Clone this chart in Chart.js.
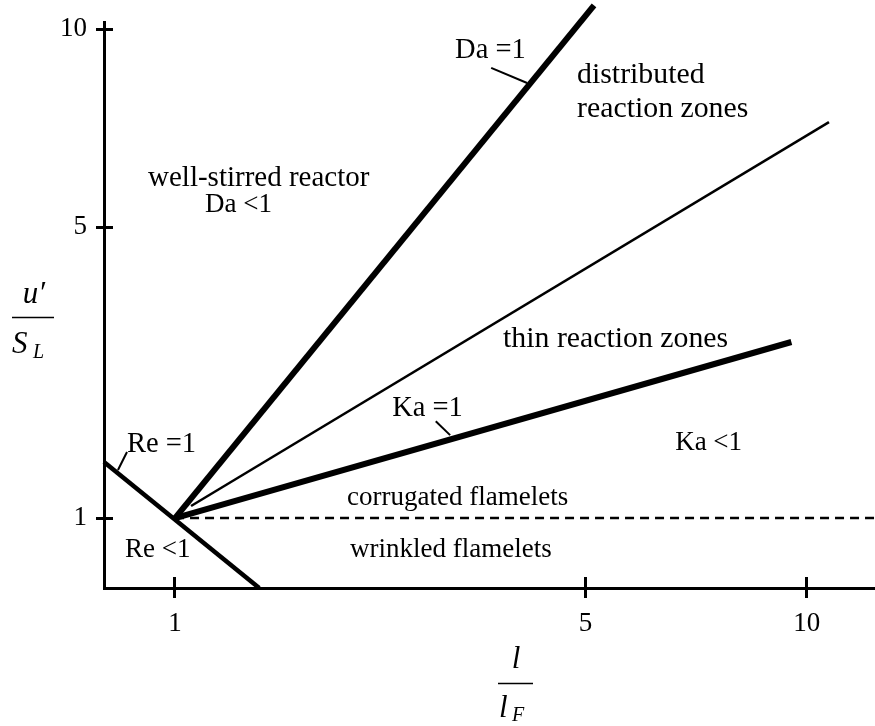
<!DOCTYPE html>
<html>
<head>
<meta charset="utf-8">
<script src="https://cdn.jsdelivr.net/npm/chart.js@4.4.1/dist/chart.umd.min.js"></script>
<style>
  html, body { margin: 0; padding: 0; background: #fff; }
  #wrap { width: 875px; height: 726px; position: relative; }
</style>
</head>
<body>
<div id="wrap"><canvas id="regime"></canvas></div>
<script>
// Regime diagram of premixed turbulent combustion (u'/S_L against l/l_F)

const xTicks = [1, 5, 10];
const yTicks = [1, 5, 10];

// Regime boundaries, end points in (l/l_F, u'/S_L)
const da1X = [1, 5.19];
const da1Y = [1, 10.6];
const thinX = [1.156, 10.5];
const thinY = [1.165, 7.65];
const ka1X = [1, 9.65];
const ka1Y = [1, 3.42];
const re1X = [0.308, 1.82];
const re1Y = [1.77, 0.038];
const flameletX = [1, 11.54];
const flameletY = [1, 1];

// Short leader strokes joining a boundary to its name
const reLeadX = [0.444, 0.532];
const reLeadY = [1.66, 1.907];
const daLeadX = [4.08, 4.43];
const daLeadY = [9.02, 8.64];
const kaLeadX = [3.54, 3.68];
const kaLeadY = [2.33, 2.14];

// Region names, anchored at the left end of their baseline
const regionText = ['Da =1', 'distributed', 'reaction zones', 'well-stirred reactor', 'Da <1',
  'thin reaction zones', 'Ka =1', 'Ka <1', 'corrugated flamelets', 'wrinkled flamelets',
  'Re =1', 'Re <1'];
const regionX = [3.728, 4.917, 4.917, 0.737, 1.292, 4.196, 3.115, 7.023, 2.676, 2.705, 0.532, 0.513];
const regionY = [9.268, 8.636, 7.778, 6.035, 5.379, 3.351, 2.402, 1.935, 1.179, 0.464, 1.907, 0.464];

const SERIF = "'Liberation Serif', 'Times New Roman', serif";

// Lettering sizes: the boundary names and the upper region names are set a little larger
const labelSize = {
  'Da =1': 28.5, 'Ka =1': 28.5, 'Re =1': 28.5,
  'distributed': 29.8, 'reaction zones': 29.8, 'thin reaction zones': 29.8,
  'well-stirred reactor': 29
};

// The diagram's axes are schematic: the stretch between labelled ticks is not uniform.
// Each axis is drawn piecewise-linear between its labelled values.
const axisBends = {
  x: { values: xTicks, lengths: [410.5, 221.2] },
  y: { values: yTicks, lengths: [291, 198] }
};

class BentScale extends Chart.LinearScale {
  static id = 'bent';
  static defaults = Chart.LinearScale.defaults;

  _bend() {
    const b = axisBends[this.axis];
    const cum = [0];
    b.lengths.forEach((l, i) => cum.push(cum[i] + l));
    return { v: b.values, l: b.lengths, c: cum };
  }
  _posOf(value) {
    const { v, l, c } = this._bend();
    let i = 0;
    while (i < v.length - 2 && value > v[i + 1]) i++;
    return c[i] + (value - v[i]) * l[i] / (v[i + 1] - v[i]);
  }
  _valueOf(pos) {
    const { v, l, c } = this._bend();
    let i = 0;
    while (i < v.length - 2 && pos > c[i + 1]) i++;
    return v[i] + (pos - c[i]) * (v[i + 1] - v[i]) / l[i];
  }
  getPixelForValue(value) {
    const p0 = this._posOf(this.min), p1 = this._posOf(this.max);
    return this.getPixelForDecimal((this._posOf(value) - p0) / (p1 - p0));
  }
  getValueForPixel(pixel) {
    const p0 = this._posOf(this.min), p1 = this._posOf(this.max);
    return this._valueOf(p0 + this.getDecimalForPixel(pixel) * (p1 - p0));
  }
}
Chart.register(BentScale);

const pts = (xs, ys) => xs.map((x, i) => ({ x, y: ys[i] }));

function boundary(label, xs, ys, width, dash) {
  return {
    label,
    data: pts(xs, ys),
    borderColor: '#000',
    borderWidth: width,
    borderDash: dash || [],
    borderCapStyle: 'butt',
    pointRadius: 0,
    pointHoverRadius: 0,
    tension: 0,
    fill: false,
    clip: false
  };
}

// Crossing tick marks, region names and the two fraction-style axis titles
const decorations = {
  id: 'decorations',
  afterDatasetsDraw(chart) {
    const { ctx, scales: { x, y } } = chart;
    ctx.save();
    ctx.strokeStyle = '#000';
    ctx.fillStyle = '#000';
    ctx.lineWidth = 3;
    ctx.lineCap = 'butt';
    x.ticks.forEach(t => {
      const px = Math.round(x.getPixelForValue(t.value)) - 0.5;
      ctx.beginPath();
      ctx.moveTo(px, y.bottom - 11);
      ctx.lineTo(px, y.bottom + 10);
      ctx.stroke();
    });
    y.ticks.forEach(t => {
      const py = Math.round(y.getPixelForValue(t.value)) + 0.5;
      ctx.beginPath();
      ctx.moveTo(x.left - 8, py);
      ctx.lineTo(x.left + 9, py);
      ctx.stroke();
    });

    ctx.textAlign = 'left';
    ctx.textBaseline = 'alphabetic';
    regionText.forEach((s, i) => {
      ctx.font = (labelSize[s] || 27) + 'px ' + SERIF;
      ctx.fillText(s, x.getPixelForValue(regionX[i]), y.getPixelForValue(regionY[i]));
    });

    // u' / S_L
    ctx.textAlign = 'center';
    ctx.font = 'italic 31px ' + SERIF;
    ctx.fillText('u\u2032', 34, 303);
    ctx.lineWidth = 1.5;
    ctx.beginPath();
    ctx.moveTo(12, 317.5);
    ctx.lineTo(54, 317.5);
    ctx.stroke();
    ctx.textAlign = 'left';
    ctx.font = 'italic 31px ' + SERIF;
    ctx.fillText('S', 12, 353);
    ctx.font = 'italic 20px ' + SERIF;
    ctx.fillText('L', 33, 358);

    // l / l_F
    ctx.textAlign = 'center';
    ctx.font = 'italic 31px ' + SERIF;
    ctx.fillText('l', 516, 668);
    ctx.lineWidth = 1.5;
    ctx.beginPath();
    ctx.moveTo(498, 683.5);
    ctx.lineTo(533, 683.5);
    ctx.stroke();
    ctx.textAlign = 'left';
    ctx.fillText('l', 499, 717);
    ctx.font = 'italic 20px ' + SERIF;
    ctx.fillText('F', 512, 721);
    ctx.restore();
  }
};

new Chart(document.getElementById('regime'), {
  type: 'line',
  data: {
    datasets: [
      boundary('Da = 1', da1X, da1Y, 6),
      boundary('Ka = 0.1', thinX, thinY, 2.5),
      boundary('Ka = 1', ka1X, ka1Y, 6),
      boundary('Re = 1', re1X, re1Y, 4.5),
      boundary('u\u2032 = S_L', flameletX, flameletY, 2.5, [9, 6]),
      boundary('Re leader', reLeadX, reLeadY, 2),
      boundary('Da leader', daLeadX, daLeadY, 2),
      boundary('Ka leader', kaLeadX, kaLeadY, 2)
    ]
  },
  options: {
    responsive: true,
    maintainAspectRatio: false,
    animation: false,
    events: [],
    layout: { padding: { top: 22, left: 0, right: 0, bottom: 0 } },
    plugins: { legend: { display: false }, tooltip: { enabled: false } },
    scales: {
      x: {
        type: 'bent',
        min: 0.308,
        max: 11.54,
        bounds: 'data',
        grid: { display: false, drawTicks: false },
        border: { display: true, color: '#000', width: 3 },
        afterBuildTicks: s => { s.ticks = xTicks.map(v => ({ value: v })); },
        afterFit: s => { s.height = 138; s.paddingLeft = 0; s.paddingRight = 0; },
        ticks: {
          autoSkip: false, maxRotation: 0, color: '#000', padding: 20,
          font: { family: SERIF, size: 27 },
          callback: v => String(v)
        }
      },
      y: {
        type: 'bent',
        min: 0.038,
        max: 10.18,
        bounds: 'data',
        grid: { display: false, drawTicks: false },
        border: { display: true, color: '#000', width: 3 },
        afterBuildTicks: s => { s.ticks = yTicks.map(v => ({ value: v })); },
        afterFit: s => { s.width = 104; s.paddingTop = 0; s.paddingBottom = 0; },
        ticks: {
          autoSkip: false, color: '#000', padding: 17,
          font: { family: SERIF, size: 27 },
          callback: v => String(v)
        }
      }
    }
  },
  plugins: [decorations]
});
</script>
</body>
</html>
